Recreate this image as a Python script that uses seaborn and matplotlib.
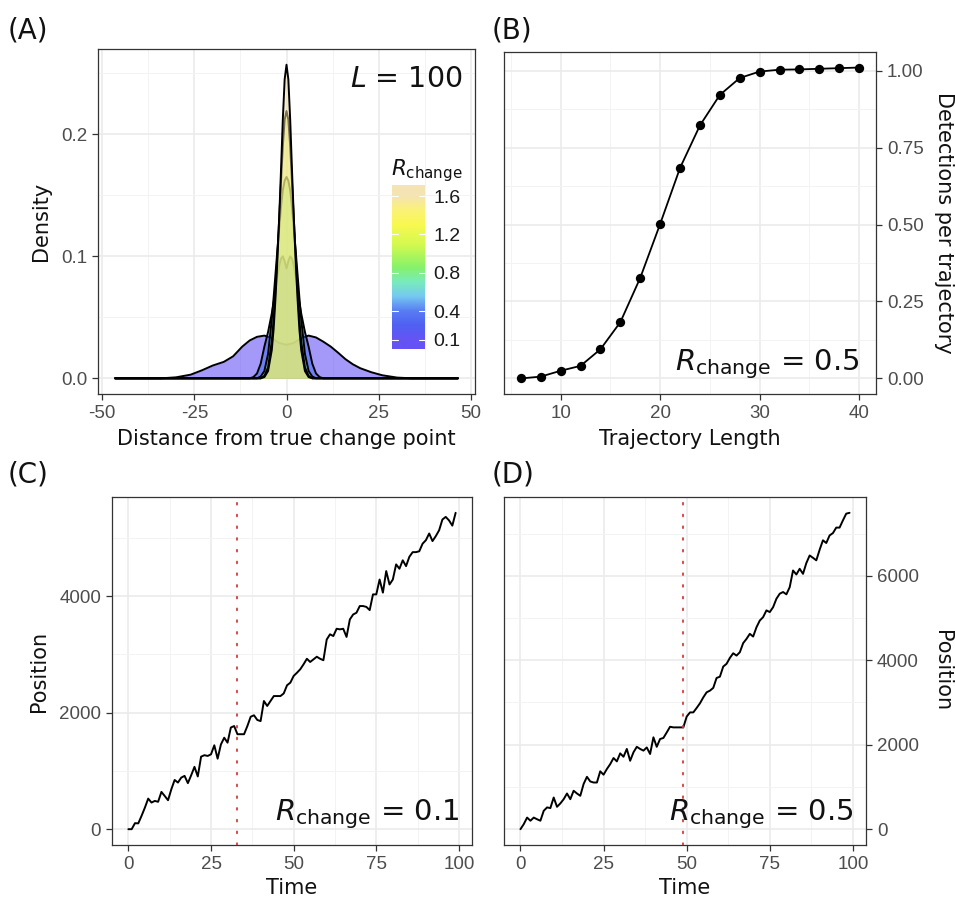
import numpy as np
import pandas as pd
import matplotlib
matplotlib.use("Agg")
import matplotlib.pyplot as plt
import seaborn as sns
from matplotlib.colors import LinearSegmentedColormap, Normalize

# ---------------- data ----------------
# Panel A: density of distance from true change point, one curve per R_change
r_values = [0.1, 0.4, 0.8, 1.2, 1.6]
dist_wide = [-46.5, -34, -30, -26, -23, -20, -17, -14.5, -12, -10, -8, -6, -4, -2, 0,
             2, 4, 6, 8, 10, 12, 14, 16, 18, 20, 23, 26, 30, 34, 46.5]
dens_r01 = [0, 0, 0.0008, 0.003, 0.0065, 0.0105, 0.0135, 0.018, 0.026, 0.031, 0.034, 0.035,
            0.033, 0.029, 0.0275, 0.029, 0.033, 0.035, 0.0335, 0.030, 0.026, 0.021, 0.0157,
            0.0115, 0.0083, 0.005, 0.0025, 0.0006, 0, 0]
dist_narrow = [-46.5, -10, -9, -8, -7, -6, -5, -4, -3.5, -3, -2.5, -2, -1.5, -1, -0.5, 0,
               0.5, 1, 1.5, 2, 2.5, 3, 3.5, 4, 5, 6, 7, 8, 9, 10, 46.5]
dens_r04 = [0, 0, 0.001, 0.004, 0.012, 0.026, 0.038, 0.053, 0.062, 0.072, 0.083, 0.092, 0.098,
            0.100, 0.096, 0.090, 0.096, 0.100, 0.098, 0.092, 0.083, 0.072, 0.062, 0.053, 0.038,
            0.026, 0.012, 0.004, 0.001, 0, 0]
dens_r08 = [0, 0, 0, 0, 0.0015, 0.006, 0.020, 0.048, 0.066, 0.085, 0.104, 0.122, 0.140,
            0.154, 0.162, 0.165, 0.162, 0.154, 0.140, 0.122, 0.104, 0.085, 0.066, 0.048, 0.020,
            0.006, 0.0015, 0, 0, 0, 0]
dens_r12 = [0, 0, 0, 0, 0, 0.002, 0.009, 0.030, 0.048, 0.072, 0.100, 0.130, 0.160, 0.190,
            0.212, 0.219, 0.212, 0.190, 0.160, 0.130, 0.100, 0.072, 0.048, 0.030, 0.009, 0.002,
            0, 0, 0, 0, 0]
dens_r16 = [0, 0, 0, 0, 0, 0.001, 0.006, 0.023, 0.040, 0.065, 0.095, 0.130, 0.170, 0.212,
            0.245, 0.257, 0.245, 0.212, 0.170, 0.130, 0.095, 0.065, 0.040, 0.023, 0.006, 0.001,
            0, 0, 0, 0, 0]

# Panel B: detections per trajectory vs trajectory length
traj_length = [6, 8, 10, 12, 14, 16, 18, 20, 22, 24, 26, 28, 30, 32, 34, 36, 38, 40]
detections = [0.000, 0.006, 0.025, 0.041, 0.095, 0.183, 0.327, 0.502, 0.684, 0.822, 0.921,
              0.976, 0.997, 1.003, 1.004, 1.006, 1.008, 1.010]

# Panels C and D: example trajectories
time_c = list(range(100))
pos_c = [0, 0, 103, 100, 230, 370, 525, 457, 485, 470,
         640, 570, 497, 685, 845, 800, 885, 915, 790, 925,
         1070, 905, 1245, 1270, 1257, 1285, 1440, 1210, 1455, 1570,
         1485, 1745, 1770, 1630, 1630, 1630, 1770, 1930, 1955, 1875,
         1855, 2200, 2115, 2200, 2285, 2285, 2285, 2330, 2470, 2515,
         2630, 2685, 2745, 2830, 2925, 2870, 2915, 2960, 2925, 2900,
         3255, 3345, 3315, 3440, 3430, 3440, 3300, 3600, 3685, 3715,
         3830, 3830, 3815, 3760, 4030, 4030, 4285, 4060, 4430, 4200,
         4285, 4545, 4470, 4615, 4515, 4675, 4755, 4755, 4770, 4900,
         4960, 5075, 4945, 5030, 5130, 5315, 5360, 5300, 5210, 5430]
change_c = 33
time_d = list(range(100))
pos_d = [0, 120, 275, 200, 275, 235, 200, 435, 515, 500,
         750, 530, 610, 710, 845, 710, 910, 845, 790, 1070,
         1240, 1130, 1105, 1105, 1370, 1290, 1425, 1540, 1685, 1605,
         1795, 1715, 1900, 1620, 1820, 1950, 1900, 1860, 1935, 1780,
         2175, 1950, 2135, 2160, 2290, 2425, 2410, 2410, 2410, 2410,
         2665, 2765, 2765, 2870, 2980, 3120, 3240, 3280, 3345, 3580,
         3610, 3850, 3915, 4055, 4165, 4110, 4190, 4405, 4505, 4625,
         4560, 4780, 4940, 5020, 5180, 5140, 5255, 5455, 5575, 5615,
         5560, 5730, 6125, 6030, 6165, 6045, 6300, 6480, 6425, 6365,
         6615, 6840, 6775, 6955, 7010, 7140, 7140, 7310, 7470, 7490]
change_d = 49

cbar_ticks = [0.1, 0.4, 0.8, 1.2, 1.6]

# ---------------- style ----------------
sns.set_theme(style="white")
plt.rcParams["font.family"] = ["DejaVu Sans"]
TICKFONT = "Liberation Sans"
TICKSIZE = 13.5

W, H = 955, 900
fig = plt.figure(figsize=(W / 100, H / 100), dpi=100)


def px_axes(l, t, r, b):
    return fig.add_axes([l / W, 1 - b / H, (r - l) / W, (b - t) / H])


def ftxt(x, y, s, **kw):
    fig.text(x / W, 1 - y / H, s, **kw)


def expand(vals, frac=0.05):
    lo, hi = min(vals), max(vals)
    d = (hi - lo) * frac
    return lo - d, hi + d


def style(ax, xmaj, xmin, ymaj, ymin, right=False):
    ax.set_xticks(xmaj)
    ax.set_xticks(xmin, minor=True)
    ax.set_yticks(ymaj)
    ax.set_yticks(ymin, minor=True)
    ax.grid(which="major", color="#ebebeb", lw=1.2)
    ax.grid(which="minor", color="#f3f3f3", lw=0.7)
    ax.set_axisbelow(True)
    for s in ax.spines.values():
        s.set_color("#333333")
        s.set_linewidth(0.9)
        s.set_visible(True)
    ax.tick_params(which="major", length=4.3, width=0.9, color="#333333",
                   labelsize=TICKSIZE, labelcolor="#4d4d4d", pad=3.5,
                   left=not right, right=right, labelleft=not right, labelright=right,
                   bottom=True)
    ax.tick_params(which="minor", length=0)
    for lab in ax.get_xticklabels() + ax.get_yticklabels():
        lab.set_fontfamily(TICKFONT)
    if right:
        ax.yaxis.set_label_position("right")


cmap = LinearSegmentedColormap.from_list("rch", [
    (0.00, "#4a34f2"), (0.10, "#3044f0"), (0.20, "#3a66f0"), (0.30, "#5cc0f0"),
    (0.40, "#60e8b0"), (0.50, "#70f050"), (0.65, "#c8f830"), (0.80, "#f8f830"),
    (0.90, "#fbf060"), (1.00, "#f3dfa6")])
norm = Normalize(vmin=0.1, vmax=1.6)

# ---------------- Panel A ----------------
axA = px_axes(98, 49, 475, 394)
curves = [(dist_wide, dens_r01), (dist_narrow, dens_r04), (dist_narrow, dens_r08),
          (dist_narrow, dens_r12), (dist_narrow, dens_r16)]
for r, (xs, ys) in zip(r_values, curves):
    # fill and outline share a zorder so each later group covers earlier outlines
    axA.fill_between(xs, ys, 0, color=cmap(norm(r)), alpha=0.5, lw=0, zorder=2)
    sns.lineplot(x=xs, y=ys, ax=axA, color="black", lw=1.4, estimator=None,
                 sort=False, zorder=2)
axA.set_xlim(-51.15, 51.15)
all_dens = dens_r01 + dens_r04 + dens_r08 + dens_r12 + dens_r16
axA.set_ylim(*expand(all_dens))
style(axA, [-50, -25, 0, 25, 50], [-37.5, -12.5, 12.5, 37.5], [0, 0.1, 0.2], [0.05, 0.15, 0.25])
axA.set_xticklabels(["-50", "-25", "0", "25", "50"], fontfamily=TICKFONT)
axA.set_xlabel("Distance from true change point", fontsize=15, labelpad=5, color="#111111")
axA.set_ylabel("Density", fontsize=15, labelpad=7, color="#111111")
ftxt(462, 87, r"$L$ = 100", fontsize=20.5, ha="right", va="baseline", color="#111111")

# colour bar legend
axCB = px_axes(392, 185, 425, 349)
lo_cb, hi_cb = 0.006, 1.715
grad = np.linspace(lo_cb, hi_cb, 300).reshape(-1, 1)
axCB.imshow(grad, cmap=cmap, norm=norm, aspect="auto", origin="lower",
            extent=[0, 1, lo_cb, hi_cb], alpha=0.85)
axCB.set_xlim(0, 1)
axCB.set_ylim(lo_cb, hi_cb)
axCB.set_xticks([])
axCB.set_yticks(cbar_ticks)
axCB.set_yticklabels([f"{v:.1f}" for v in cbar_ticks], fontfamily=TICKFONT)
axCB.yaxis.tick_right()
axCB.tick_params(axis="y", length=0, labelsize=14, labelcolor="#1a1a1a", pad=6)
for v in cbar_ticks:
    axCB.plot([0, 0.18], [v, v], color="white", lw=0.8)
    axCB.plot([0.82, 1], [v, v], color="white", lw=0.8)
for s in axCB.spines.values():
    s.set_visible(False)
ftxt(391, 175, r"$R_{\mathrm{change}}$", fontsize=15.5, ha="left", va="baseline", color="#111111")

# ---------------- Panel B ----------------
axB = px_axes(504, 52, 876, 394)
dfB = pd.DataFrame({"length": traj_length, "det": detections})
sns.lineplot(data=dfB, x="length", y="det", ax=axB, color="black", lw=1.3, zorder=3)
sns.scatterplot(data=dfB, x="length", y="det", ax=axB, color="black", s=45,
                edgecolor="black", linewidth=0, zorder=4)
axB.set_xlim(*expand(traj_length))
axB.set_ylim(*expand(detections))
style(axB, [10, 20, 30, 40], [5, 15, 25, 35], [0, 0.25, 0.5, 0.75, 1.0],
      [0.125, 0.375, 0.625, 0.875], right=True)
axB.set_yticklabels(["0.00", "0.25", "0.50", "0.75", "1.00"], fontfamily=TICKFONT)
axB.set_xlabel("Trajectory Length", fontsize=15, labelpad=5, color="#111111")
axB.set_ylabel("Detections per trajectory", fontsize=15, rotation=270, labelpad=22,
               color="#111111")
ftxt(860, 370, r"$R_{\mathrm{change}}$ = 0.5", fontsize=21, ha="right", va="baseline",
     color="#111111")

# ---------------- Panel C ----------------
axC = px_axes(112, 497, 472, 845)
dfC = pd.DataFrame({"time": time_c, "pos": pos_c})
sns.lineplot(data=dfC, x="time", y="pos", ax=axC, color="black", lw=1.4, zorder=3)
axC.axvline(change_c, color="#d63a3a", lw=1.3, ls=(0, (1, 5.5)),
            dash_capstyle="round", zorder=4)
axC.set_xlim(*expand(time_c))
axC.set_ylim(*expand(pos_c))
style(axC, [0, 25, 50, 75, 100], [12.5, 37.5, 62.5, 87.5], [0, 2000, 4000], [1000, 3000, 5000])
axC.set_xlabel("Time", fontsize=15, labelpad=4, color="#111111")
axC.set_ylabel("Position", fontsize=15, labelpad=7, color="#111111")
ftxt(460, 820, r"$R_{\mathrm{change}}$ = 0.1", fontsize=21, ha="right", va="baseline",
     color="#111111")

# ---------------- Panel D ----------------
axD = px_axes(504, 497, 866, 845)
dfD = pd.DataFrame({"time": time_d, "pos": pos_d})
sns.lineplot(data=dfD, x="time", y="pos", ax=axD, color="black", lw=1.4, zorder=3)
axD.axvline(change_d, color="#d63a3a", lw=1.3, ls=(0, (1, 5.5)),
            dash_capstyle="round", zorder=4)
axD.set_xlim(*expand(time_d))
axD.set_ylim(*expand(pos_d))
style(axD, [0, 25, 50, 75, 100], [12.5, 37.5, 62.5, 87.5], [0, 2000, 4000, 6000],
      [1000, 3000, 5000, 7000], right=True)
axD.set_xlabel("Time", fontsize=15, labelpad=4, color="#111111")
axD.set_ylabel("Position", fontsize=15, rotation=270, labelpad=24, color="#111111")
ftxt(854, 820, r"$R_{\mathrm{change}}$ = 0.5", fontsize=21, ha="right", va="baseline",
     color="#111111")

# panel labels
for lab, x, y in [("(A)", 8, 39), ("(B)", 492, 39), ("(C)", 8, 483), ("(D)", 492, 483)]:
    ftxt(x, y, lab, fontsize=20, ha="left", va="baseline", color="#111111")

fig.savefig("out.png", dpi=100)
